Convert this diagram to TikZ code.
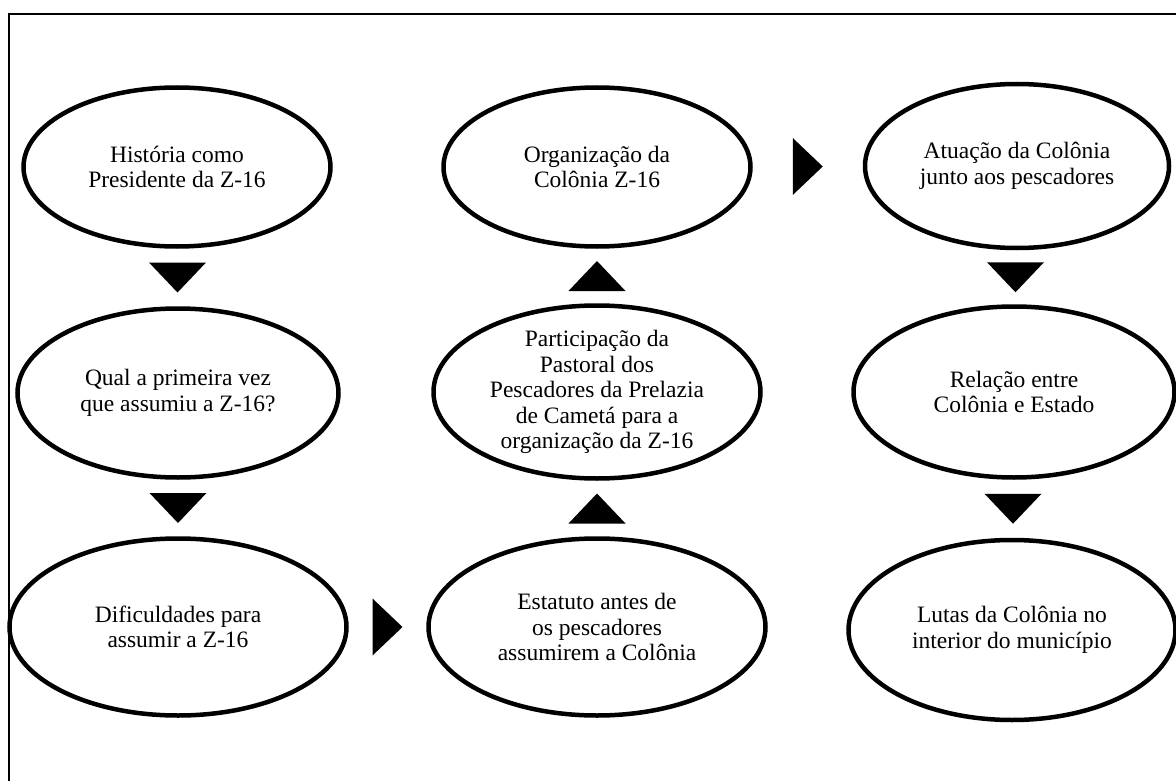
\documentclass[tikz,border=0pt]{standalone}
\usepackage{fontspec}
\setmainfont{Liberation Serif}
\usetikzlibrary{shapes.geometric,calc}

\begin{document}
\begin{tikzpicture}[x=1pt, y=-1pt]
          \tikzset{
            TopicStyle/.style = { ellipse, draw, line width=4.5pt,
              align = center, inner sep = -14pt,
              font = \fontsize{23.5}{25.5}\selectfont},
            TriDown/.pic = {\fill (-28.5,-15) -- (28.5,-15) -- (0,15) -- cycle;},
            TriUp/.pic = {\fill (-28.5,15) -- (28.5,15) -- (0,-15) -- cycle;},
            TriRight/.pic = {\fill (-15,-28.5) -- (-15,28.5) -- (15,0) -- cycle;} }

          \clip (0,0) rectangle (1176,781);
          \draw[line width=1.5pt] (9,14) rectangle (1200,820);

          % left column
          \node[TopicStyle, minimum width=307, minimum height=159] (HIST) at (177,167) {História como\\Presidente da Z-16};
          \node[TopicStyle, minimum width=321, minimum height=169] (QUAL) at (178,393) {Qual a primeira vez\\que assumiu a Z-16?};
          \node[TopicStyle, minimum width=337, minimum height=177] (DIFIC) at (178,627) {Dificuldades para\\assumir a Z-16};

          % middle column
          \node[TopicStyle, minimum width=337, minimum height=177] (ESTAT) at (597,627) {Estatuto antes de\\os pescadores\\assumirem a Colônia};
          \node[TopicStyle, minimum width=327, minimum height=173] (PASTORAL) at (597,392) {Participação da\\Pastoral dos\\Pescadores da Prelazia\\de Cametá para a\\organização da Z-16};
          \node[TopicStyle, minimum width=307, minimum height=159] (ORGAN) at (597,167) {Organização da\\Colônia Z-16};

          % right column
          \node[TopicStyle, minimum width=304, minimum height=164] (ATUA) at (1017,166) {Atuação da Colônia\\junto aos pescadores};
          \node[TopicStyle, minimum width=321, minimum height=171] (REL) at (1014,392) {Relação entre\\Colônia e Estado};
          \node[TopicStyle, minimum width=327, minimum height=180] (LUTAS) at (1012,630) {Lutas da Colônia no\\interior do município};

          \path ($(HIST.south)!0.5!(QUAL.north)$) pic {TriDown};
          \path ($(QUAL.south)!0.5!(DIFIC.north)$) pic {TriDown};
          \path ($(DIFIC.east)!0.5!(ESTAT.west)$) pic {TriRight};
          \path ($(ESTAT.north)!0.5!(PASTORAL.south)$) pic {TriUp};
          \path ($(PASTORAL.north)!0.5!(ORGAN.south)$) pic {TriUp};
          \path ($(ORGAN.east)!0.5!(ATUA.west)$) pic {TriRight};
          \path ($(ATUA.south)!0.5!(REL.north)$) pic {TriDown};
          \path ($(REL.south)!0.5!(LUTAS.north)$) pic {TriDown};
\end{tikzpicture}
\end{document}
